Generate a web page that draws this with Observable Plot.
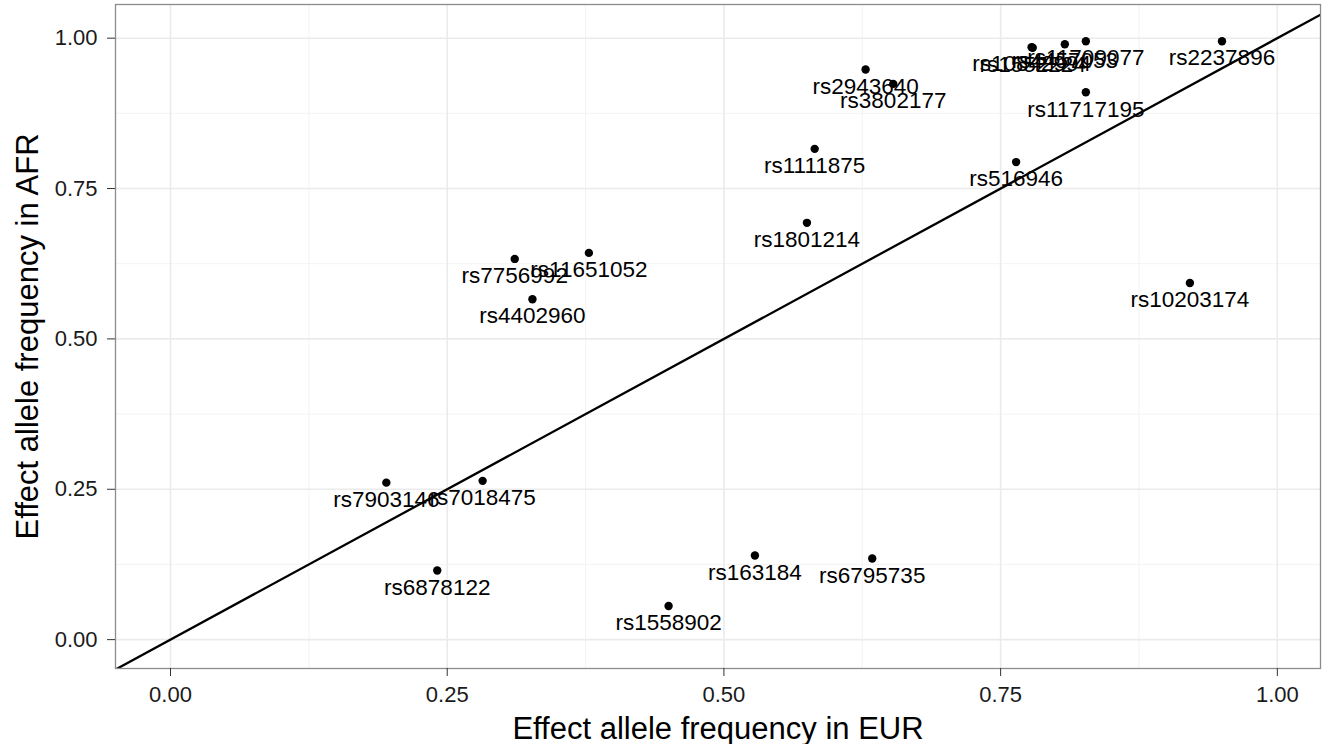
<!DOCTYPE html>
<html>
<head>
<meta charset="utf-8">
<script src="https://cdn.jsdelivr.net/npm/d3@7"></script>
<script src="https://cdn.jsdelivr.net/npm/@observablehq/plot@0.6"></script>
<style>
  html, body { margin: 0; padding: 0; background: #ffffff; }
  #chart svg { display: block; }
</style>
</head>
<body>
<div id="chart"></div>
<script>
// SNP identifiers
const snps = [
  "rs2237896", "rs11717195", "rs10842994", "rs1552224", "rs4457053", "rs11709077",
  "rs2943640", "rs3802177", "rs1111875", "rs516946", "rs1801214",
  "rs7756992", "rs11651052", "rs4402960", "rs10203174",
  "rs7903146", "rs7018475", "rs6878122", "rs163184", "rs6795735", "rs1558902"
];
// Effect allele frequency in EUR
const eurFreq = [
  0.950, 0.827, 0.778, 0.779, 0.808, 0.827,
  0.628, 0.653, 0.582, 0.764, 0.575,
  0.311, 0.378, 0.327, 0.921,
  0.195, 0.282, 0.241, 0.528, 0.634, 0.450
];
// Effect allele frequency in AFR
const afrFreq = [
  0.995, 0.910, 0.985, 0.984, 0.990, 0.995,
  0.948, 0.924, 0.816, 0.794, 0.693,
  0.633, 0.643, 0.566, 0.593,
  0.261, 0.264, 0.115, 0.140, 0.135, 0.056
];
const majorTicks = [0, 0.25, 0.5, 0.75, 1];
const minorTicks = [0.125, 0.375, 0.625, 0.875];
const identityLine = [-0.2, 1.2]; // y = x reference line
const xTitle = "Effect allele frequency in EUR";
const yTitle = "Effect allele frequency in AFR";

const data = snps.map((s, i) => ({snp: s, eur: eurFreq[i], afr: afrFreq[i]}));
const lineData = identityLine.map(v => ({v}));

const font = "'Liberation Sans', Arial, Helvetica, sans-serif";

const chart = Plot.plot({
  width: 1324,
  height: 744,
  marginLeft: 115,
  marginRight: 4,
  marginTop: 4,
  marginBottom: 76,
  style: {fontFamily: font, background: "#ffffff", color: "#1a1a1a"},
  x: {domain: [-0.0497, 1.039], label: null},
  y: {domain: [-0.048, 1.056], label: null},
  marks: [
    Plot.gridX(minorTicks, {stroke: "#f2f2f2", strokeOpacity: 1, strokeWidth: 0.9}),
    Plot.gridY(minorTicks, {stroke: "#f2f2f2", strokeOpacity: 1, strokeWidth: 0.9}),
    Plot.gridX(majorTicks, {stroke: "#ebebeb", strokeOpacity: 1, strokeWidth: 1.6}),
    Plot.gridY(majorTicks, {stroke: "#ebebeb", strokeOpacity: 1, strokeWidth: 1.6}),
    Plot.line(lineData, {x: "v", y: "v", stroke: "#000", strokeWidth: 2.3, clip: true}),
    Plot.dot(data, {x: "eur", y: "afr", r: 4.2, fill: "#000", stroke: null}),
    Plot.text(data, {x: "eur", y: "afr", text: "snp", dy: 17, fontSize: 22.5, fill: "#000"}),
    Plot.frame({stroke: "#8c8c8c", strokeWidth: 1.3}),
    Plot.axisX(majorTicks, {tickFormat: d3.format(".2f"), tickSize: 8, tickPadding: 10, fontSize: 22, stroke: "#333", fill: "#1a1a1a", label: null}),
    Plot.axisY(majorTicks, {tickFormat: d3.format(".2f"), tickSize: 8, tickPadding: 10, fontSize: 22, stroke: "#333", fill: "#1a1a1a", label: null}),
    Plot.text([xTitle], {frameAnchor: "bottom", dy: 70, lineAnchor: "bottom", fontSize: 31, fill: "#000"}),
    Plot.text([yTitle], {frameAnchor: "left", rotate: -90, dx: -87, textAnchor: "middle", fontSize: 31, fill: "#000"})
  ]
});
document.getElementById("chart").appendChild(chart);
</script>
</body>
</html>
